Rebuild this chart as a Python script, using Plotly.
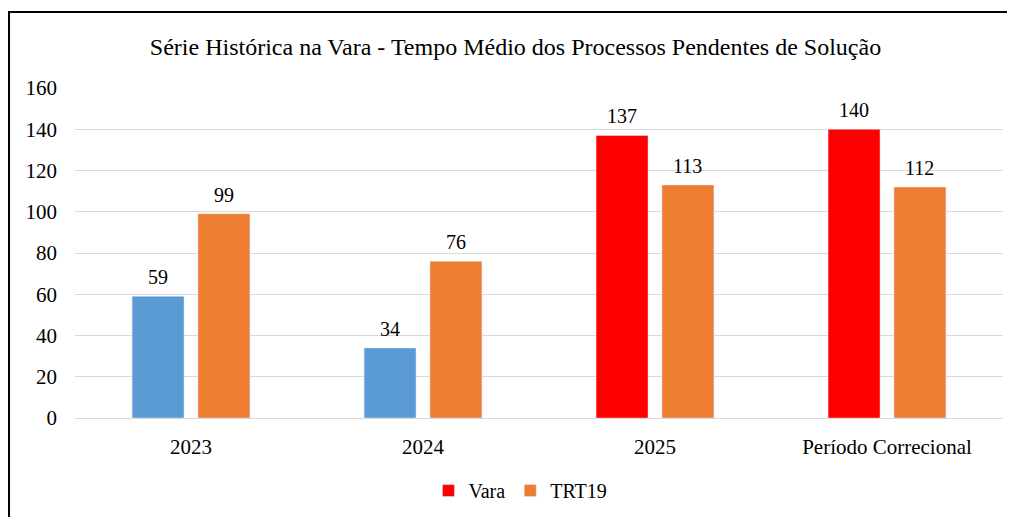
import plotly.graph_objects as go

categorias = ["2023", "2024", "2025", "Período Correcional"]
vara = [59, 34, 137, 140]
trt19 = [99, 76, 113, 112]
cores_vara = ["#5B9BD5", "#5B9BD5", "#FF0000", "#FF0000"]
cor_trt = "#ED7D31"
y_ticks = [0, 20, 40, 60, 80, 100, 120, 140, 160]

fonte = "Liberation Serif, Times New Roman, serif"
largura = 0.224
desloc_vara = -0.254
desloc_trt = 0.030

fig = go.Figure()
fig.add_trace(go.Bar(x=categorias, y=vara, name="Vara", marker_color=cores_vara,
                     width=largura, offset=desloc_vara, showlegend=False))
# entrada de legenda (vermelho)
fig.add_trace(go.Bar(x=categorias, y=[None] * 4, name="Vara", marker_color="#FF0000",
                     width=largura, offset=desloc_vara, showlegend=True))
fig.add_trace(go.Bar(x=categorias, y=trt19, name="TRT19", marker_color=cor_trt,
                     width=largura, offset=desloc_trt))

# rótulos de dados
for i, v in enumerate(vara):
    fig.add_annotation(x=i + desloc_vara + largura / 2, y=v, text=str(v), showarrow=False,
                       yanchor="bottom", yshift=6, font=dict(size=20, family=fonte, color="#000000"))
for i, v in enumerate(trt19):
    fig.add_annotation(x=i + desloc_trt + largura / 2, y=v, text=str(v), showarrow=False,
                       yanchor="bottom", yshift=6, font=dict(size=20, family=fonte, color="#000000"))

fig.update_layout(
    width=1015, height=517,
    margin=dict(l=67, r=20, t=80, b=107),
    paper_bgcolor="white", plot_bgcolor="white",
    font=dict(family=fonte, size=21, color="#000000"),
    title=dict(text="Série Histórica na Vara - Tempo Médio dos Processos Pendentes de Solução",
               x=0.5, xanchor="center", y=0.926, yanchor="middle",
               font=dict(size=24, family=fonte, color="#000000")),
    barmode="overlay",
    legend=dict(orientation="h", x=0.48, xanchor="center", y=-0.22, yanchor="middle",
                font=dict(size=20, family=fonte), itemwidth=30, traceorder="normal"),
    xaxis=dict(showgrid=False, showline=True, linecolor="#D9D9D9", linewidth=1,
               ticks="", tickfont=dict(size=21), ticklabelstandoff=10),
    yaxis=dict(range=[0, 160], tickvals=y_ticks, showgrid=True, gridcolor="#D9D9D9",
               zeroline=False, ticks="", tickfont=dict(size=21), ticklabelstandoff=17),
)

# moldura externa
fig.add_shape(type="rect", xref="paper", yref="paper",
              x0=-0.0711, x1=1.0108, y0=-0.35, y1=1.2303,
              line=dict(color="#000000", width=2), fillcolor="rgba(0,0,0,0)", layer="above")

fig.write_html("out.html")
